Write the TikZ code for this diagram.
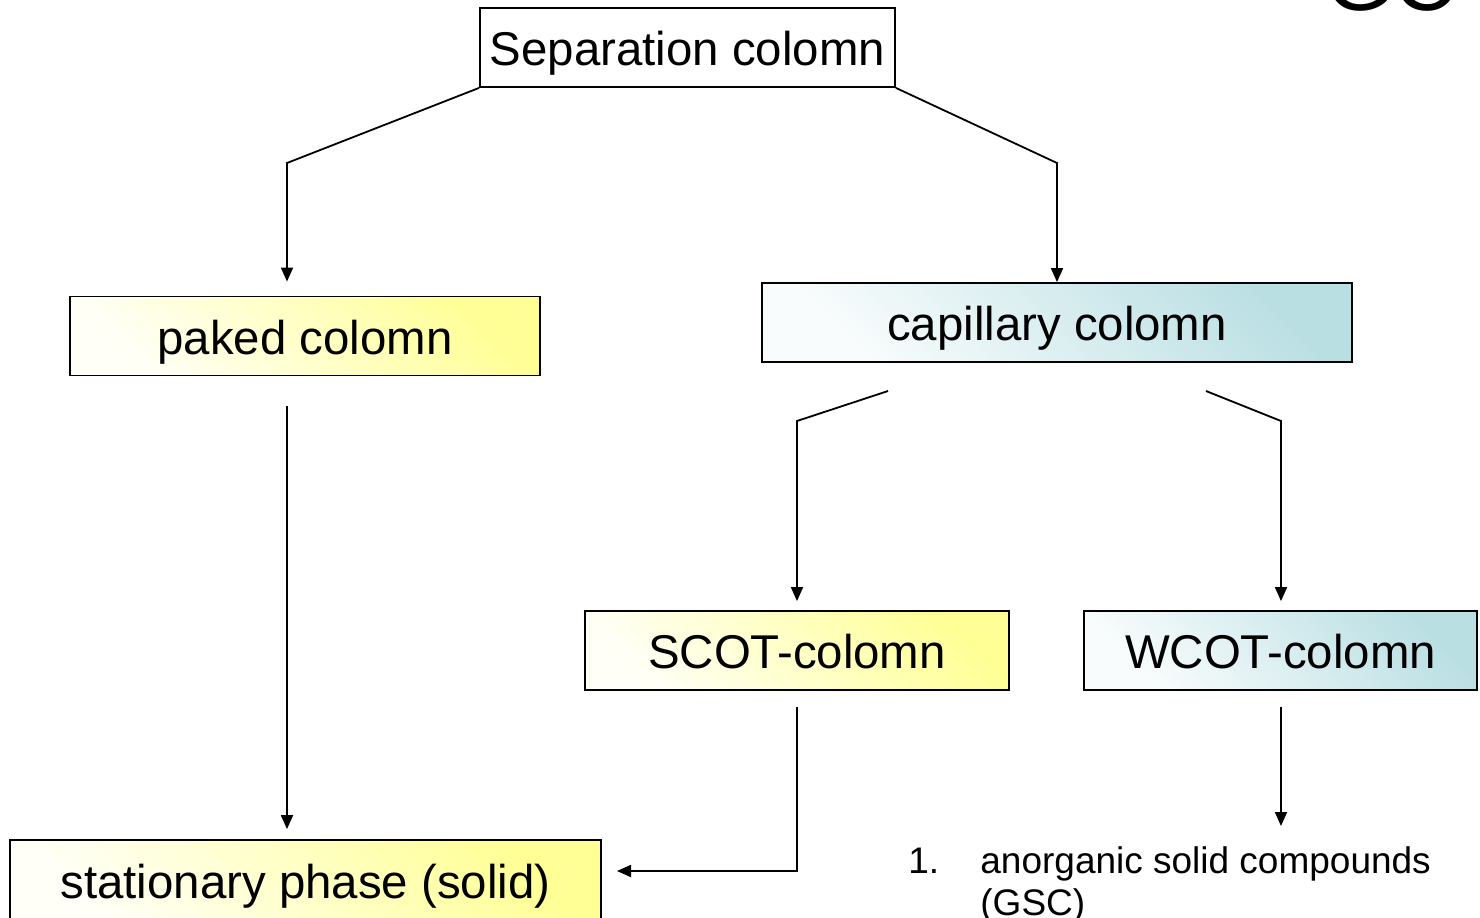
\documentclass[tikz,border=0pt]{standalone}
\usepackage{fontspec}
\setmainfont{Liberation Sans}
\usetikzlibrary{arrows.meta}

\definecolor{boxyellow}{RGB}{255,255,150}
\definecolor{boxblue}{RGB}{186,223,227}

\tikzset{
  arr/.style={line width=0.9pt, -{Triangle[length=7pt,width=6pt]}},
  colbox/.style={draw, line width=0.9pt, inner sep=0pt, minimum height=39.5pt,
    text height=20pt, text depth=2pt, font=\fontsize{23.7}{28}\selectfont},
  yellowbox/.style={colbox, left color=boxyellow!8, right color=boxyellow, shading angle=135},
  bluebox/.style={colbox, left color=boxblue!8, right color=boxblue, shading angle=135},
}

\begin{document}
\begin{tikzpicture}[x=0.5pt, y=-0.5pt]
  \useasboundingbox (0,0) rectangle (1480,917);

  \node[font=\fontsize{44}{50}\selectfont, anchor=base west, inner sep=0pt] (gc) at (1325,10) {GC};

  \node[colbox, fill=white, minimum width=207.5pt] (sep) at (687.5,47.5) {Separation colomn};
  \node[yellowbox, minimum width=235pt] (paked) at (305,336) {paked colomn};
  \node[bluebox, minimum width=295pt] (cap) at (1057,322.5) {capillary colomn};
  \node[yellowbox, minimum width=212pt] (scot) at (797,650.5) {SCOT-colomn};
  \node[bluebox, minimum width=196.5pt] (wcot) at (1280.5,650.5) {WCOT-colomn};
  \node[yellowbox, minimum width=295.5pt, minimum height=40pt] (stat) at (305.5,880) {stationary phase (solid)};

  \node[anchor=base west, inner sep=0pt, font=\fontsize{18.5}{21}\selectfont] (num) at (908,873) {1.};
  \node[anchor=north west, inner sep=0pt, align=left, font=\fontsize{18.5}{21}\selectfont] (item) at (980,846)
    {anorganic solid compounds\\(GSC)};

  \coordinate (c1) at (287,163);
  \coordinate (c2) at (1057,163);
  \coordinate (d1) at (888,391);
  \coordinate (d2) at (797,421);
  \coordinate (d3) at (1206,391);
  \coordinate (d4) at (1281,421);
  \coordinate (e1) at (617,871);
  \coordinate (e2) at (1281,826);

  \draw[arr, shorten >=7pt] (sep.south west) -- (c1) -- (c1 |- paked.north);
  \draw[arr] (sep.south east) -- (c2) -- (cap.north);
  \draw[arr, shorten <=15pt, shorten >=5pt] (c1 |- paked.south) -- (c1 |- stat.north);
  \draw[arr, shorten >=4.5pt] (d1) -- (d2) -- (scot.north);
  \draw[arr, shorten >=4.5pt] (d3) -- (d4) -- (d4 |- wcot.north);
  \draw[arr, shorten <=8pt] (scot.south) |- (e1);
  \draw[arr, shorten <=8pt] (d4 |- wcot.south) -- (e2);
\end{tikzpicture}
\end{document}
